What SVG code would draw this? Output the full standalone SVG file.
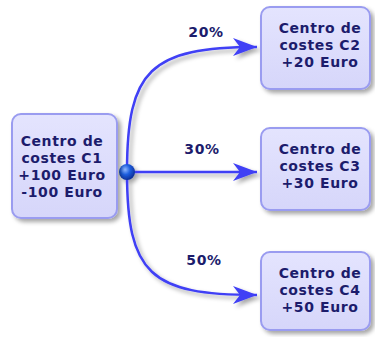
<svg xmlns="http://www.w3.org/2000/svg" width="375" height="337" viewBox="0 0 375 337">
<style>
.box{fill:url(#bg);stroke:#9a9cf0;stroke-width:2;filter:url(#sh)}
.t{font-family:"DejaVu Sans",Verdana,sans-serif;font-weight:bold;font-size:14px;letter-spacing:0.6px;fill:#1c1c6c;text-anchor:middle}
.c{fill:none;stroke:#3f3ff5;stroke-width:2.5;marker-end:url(#ah)}
</style>
<defs>
<linearGradient id="bg" x1="0" y1="0" x2="0" y2="1"><stop offset="0" stop-color="#e4e4fe"/><stop offset="1" stop-color="#d6d6fa"/></linearGradient>
<radialGradient id="ball" cx="0.38" cy="0.35" r="0.7"><stop offset="0" stop-color="#8fb8ff"/><stop offset="0.45" stop-color="#1f5fe0"/><stop offset="1" stop-color="#0a2a90"/></radialGradient>
<filter id="sh" x="-20%" y="-20%" width="150%" height="150%"><feDropShadow dx="3" dy="3" stdDeviation="2" flood-color="#000" flood-opacity="0.35"/></filter>
<marker id="ah" markerUnits="userSpaceOnUse" markerWidth="26" markerHeight="20" refX="24" refY="10" orient="auto"><path d="M0,1 L24,10 L0,19 L7,10 z" fill="#3f3ff5"/></marker>
</defs>
<g id="connectors" filter="url(#sh)">
<path class="c" d="M127,172 C127,70 150,47 257,47"/>
<path class="c" d="M127,172 L257,172"/>
<path class="c" d="M127,172 C127,274 150,295 257,295"/>
<circle cx="127" cy="172" r="8" fill="url(#ball)"/>
</g>
<g id="labels">
<text class="t" x="206" y="37">20%</text>
<text class="t" x="202" y="154">30%</text>
<text class="t" x="204" y="265">50%</text>
</g>
<g id="c1"><rect class="box" x="12" y="114" width="105" height="104" rx="9"/>
<text class="t" x="62" y="146">Centro de</text><text class="t" x="62" y="163">costes C1</text><text class="t" x="62" y="180">+100 Euro</text><text class="t" x="62" y="197">-100 Euro</text></g>
<g id="c2"><rect class="box" x="261" y="7" width="109" height="82" rx="9"/>
<text class="t" x="320" y="33">Centro de</text><text class="t" x="320" y="50">costes C2</text><text class="t" x="320" y="67">+20 Euro</text></g>
<g id="c3"><rect class="box" x="261" y="128" width="109" height="82" rx="9"/>
<text class="t" x="320" y="154">Centro de</text><text class="t" x="320" y="171">costes C3</text><text class="t" x="320" y="188">+30 Euro</text></g>
<g id="c4"><rect class="box" x="261" y="252" width="109" height="78" rx="9"/>
<text class="t" x="320" y="278">Centro de</text><text class="t" x="320" y="295">costes C4</text><text class="t" x="320" y="312">+50 Euro</text></g>
</svg>
